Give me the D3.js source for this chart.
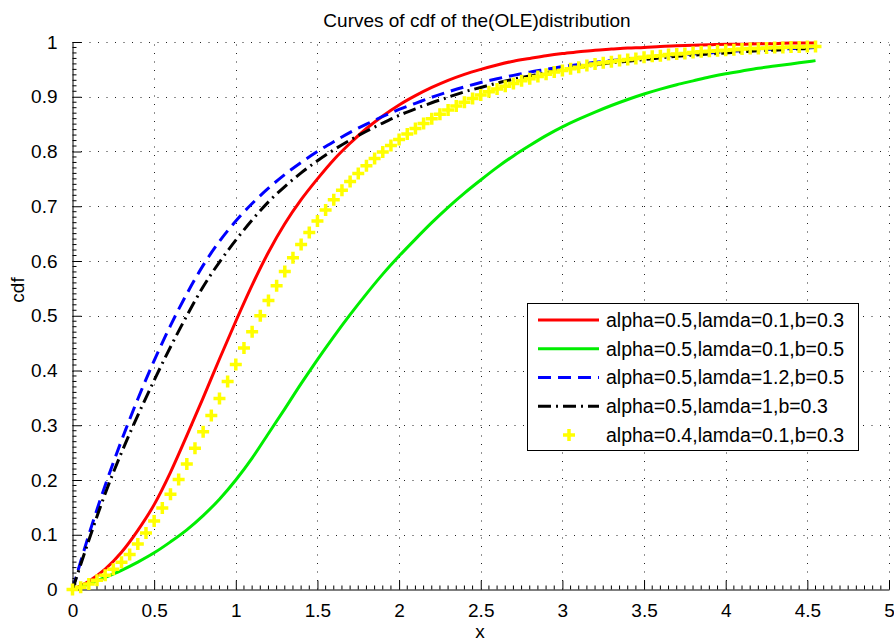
<!DOCTYPE html>
<html>
<head>
<meta charset="utf-8">
<script src="https://cdn.jsdelivr.net/npm/d3@7"></script>
<style>
  body { margin: 0; background: #fff; }
  text { font-family: "Liberation Sans", Arial, Helvetica, sans-serif; }
</style>
</head>
<body>
<svg id="chart" width="894" height="642"></svg>
<script>
// x grid used by the four line series
const xLine = [0, 0.1, 0.2, 0.3, 0.4, 0.5, 0.6, 0.7, 0.8, 0.9, 1, 1.1, 1.2, 1.3, 1.4, 1.5, 1.6, 1.7, 1.8, 1.9,
  2, 2.1, 2.2, 2.3, 2.4, 2.5, 2.6, 2.7, 2.8, 2.9, 3, 3.1, 3.2, 3.3, 3.4, 3.5, 3.6, 3.7, 3.8, 3.9,
  4, 4.1, 4.2, 4.3, 4.4, 4.5, 4.55];

const redVals = [0, 0.015, 0.037, 0.068, 0.108, 0.155, 0.214, 0.281, 0.350, 0.421, 0.490, 0.556, 0.616, 0.668, 0.712,
  0.750, 0.785, 0.815, 0.842, 0.865, 0.885, 0.902, 0.917, 0.930, 0.941, 0.950, 0.958, 0.965, 0.970, 0.975,
  0.979, 0.982, 0.985, 0.987, 0.989, 0.990, 0.992, 0.993, 0.994, 0.995, 0.996, 0.996, 0.997, 0.997, 0.998, 0.998, 0.998];

const greenVals = [0, 0.010, 0.022, 0.035, 0.050, 0.067, 0.087, 0.109, 0.135, 0.165, 0.200, 0.240, 0.285, 0.330, 0.376,
  0.420, 0.462, 0.502, 0.540, 0.576, 0.609, 0.640, 0.670, 0.698, 0.724, 0.748, 0.771, 0.792, 0.811, 0.829,
  0.845, 0.859, 0.872, 0.884, 0.895, 0.905, 0.914, 0.922, 0.929, 0.936, 0.942, 0.947, 0.952, 0.956, 0.960, 0.964, 0.966];

const blueVals = [0, 0.100, 0.190, 0.272, 0.348, 0.418, 0.482, 0.540, 0.592, 0.636, 0.673, 0.705, 0.733, 0.758, 0.780,
  0.800, 0.818, 0.835, 0.850, 0.864, 0.877, 0.888, 0.899, 0.909, 0.918, 0.926, 0.933, 0.939, 0.945, 0.950,
  0.955, 0.959, 0.963, 0.966, 0.969, 0.972, 0.974, 0.976, 0.978, 0.980, 0.982, 0.984, 0.985, 0.987, 0.988, 0.989, 0.990];

const blackVals = [0, 0.090, 0.175, 0.250, 0.318, 0.382, 0.443, 0.500, 0.553, 0.598, 0.638, 0.675, 0.708, 0.736, 0.761,
  0.783, 0.803, 0.821, 0.837, 0.852, 0.866, 0.878, 0.889, 0.899, 0.909, 0.917, 0.925, 0.932, 0.938, 0.944,
  0.949, 0.954, 0.958, 0.962, 0.965, 0.968, 0.971, 0.974, 0.976, 0.978, 0.980, 0.982, 0.984, 0.985, 0.987, 0.988, 0.989];

// the marker series is sampled twice as densely
const xMark = [0, 0.05, 0.1, 0.15, 0.2, 0.25, 0.3, 0.35, 0.4, 0.45, 0.5, 0.55, 0.6, 0.65, 0.7, 0.75, 0.8, 0.85, 0.9, 0.95,
  1, 1.05, 1.1, 1.15, 1.2, 1.25, 1.3, 1.35, 1.4, 1.45, 1.5, 1.55, 1.6, 1.65, 1.7, 1.75, 1.8, 1.85, 1.9, 1.95,
  2, 2.05, 2.1, 2.15, 2.2, 2.25, 2.3, 2.35, 2.4, 2.45, 2.5, 2.55, 2.6, 2.65, 2.7, 2.75, 2.8, 2.85, 2.9, 2.95,
  3, 3.05, 3.1, 3.15, 3.2, 3.25, 3.3, 3.35, 3.4, 3.45, 3.5, 3.55, 3.6, 3.65, 3.7, 3.75, 3.8, 3.85, 3.9, 3.95,
  4, 4.05, 4.1, 4.15, 4.2, 4.25, 4.3, 4.35, 4.4, 4.45, 4.5, 4.55];

const yellowVals = [0, 0.004, 0.010, 0.017, 0.026, 0.037, 0.050, 0.064, 0.083, 0.103, 0.125, 0.149, 0.174, 0.201, 0.229,
  0.258, 0.288, 0.318, 0.349, 0.380, 0.411, 0.441, 0.471, 0.500, 0.528, 0.555, 0.581, 0.606, 0.630, 0.652,
  0.673, 0.693, 0.712, 0.729, 0.745, 0.760, 0.774, 0.787, 0.799, 0.811, 0.822, 0.832, 0.842, 0.851, 0.860,
  0.868, 0.876, 0.883, 0.890, 0.897, 0.903, 0.909, 0.914, 0.919, 0.924, 0.929, 0.933, 0.937, 0.941, 0.945,
  0.948, 0.951, 0.954, 0.957, 0.960, 0.962, 0.964, 0.966, 0.968, 0.970, 0.972, 0.974, 0.975, 0.977, 0.978,
  0.979, 0.981, 0.982, 0.983, 0.984, 0.985, 0.986, 0.987, 0.988, 0.988, 0.989, 0.990, 0.990, 0.991, 0.991,
  0.992, 0.992];

const legendLabels = [
  "alpha=0.5,lamda=0.1,b=0.3",
  "alpha=0.5,lamda=0.1,b=0.5",
  "alpha=0.5,lamda=1.2,b=0.5",
  "alpha=0.5,lamda=1,b=0.3",
  "alpha=0.4,lamda=0.1,b=0.3"
];

const xTicks = [0, 0.5, 1, 1.5, 2, 2.5, 3, 3.5, 4, 4.5, 5];
const yTicks = [0, 0.1, 0.2, 0.3, 0.4, 0.5, 0.6, 0.7, 0.8, 0.9, 1];

const svg = d3.select("#chart");
const x = d3.scaleLinear().domain([0, 5]).range([72.5, 889]);
const y = d3.scaleLinear().domain([0, 1]).range([589.5, 42]);

// dotted grid
const grid = svg.append("g").attr("stroke", "#222").attr("stroke-width", 1)
  .attr("stroke-dasharray", "1,7.5");
grid.selectAll(".gx").data(xTicks.slice(1)).join("line")
  .attr("x1", d => Math.round(x(d)) + 0.5).attr("x2", d => Math.round(x(d)) + 0.5)
  .attr("y1", y(0)).attr("y2", y(1));
grid.selectAll(".gy").data(yTicks.slice(1)).join("line")
  .attr("y1", d => Math.round(y(d)) + 0.5).attr("y2", d => Math.round(y(d)) + 0.5)
  .attr("x1", x(0)).attr("x2", x(5));

// axes (MATLAB style: inward ticks, minor ticks)
const xAxis = svg.append("g").attr("transform", `translate(0,${y(0)})`)
  .call(d3.axisBottom(x).tickValues(xTicks).tickFormat(d3.format("~g")).tickSizeInner(-9).tickSizeOuter(0).tickPadding(14));
const yAxis = svg.append("g").attr("transform", `translate(${x(0)},0)`)
  .call(d3.axisLeft(y).tickValues(yTicks).tickFormat(d3.format("~g")).tickSizeInner(-9).tickSizeOuter(0).tickPadding(15));
[xAxis, yAxis].forEach(a => {
  a.select(".domain").attr("stroke", "#000");
  a.selectAll(".tick line").attr("stroke", "#000");
  a.selectAll("text").attr("font-size", 19).attr("fill", "#000")
    .style("font-family", '"Liberation Sans", Arial, sans-serif');
});

const minorX = x.ticks(100).filter(d => Math.abs(d * 2 - Math.round(d * 2)) > 1e-6);
svg.append("g").selectAll("line").data(minorX).join("line")
  .attr("x1", d => x(d)).attr("x2", d => x(d))
  .attr("y1", y(0)).attr("y2", y(0) - 4).attr("stroke", "#000");
const minorY = y.ticks(100).filter(d => Math.abs(d * 10 - Math.round(d * 10)) > 1e-6);
svg.append("g").selectAll("line").data(minorY).join("line")
  .attr("y1", d => y(d)).attr("y2", d => y(d))
  .attr("x1", x(0)).attr("x2", x(0) + 4).attr("stroke", "#000");

// series
const lineSeries = [
  {vals: redVals, color: "#ff0000", dash: null},
  {vals: greenVals, color: "#00ee00", dash: null},
  {vals: blueVals, color: "#0000ff", dash: "13,7"},
  {vals: blackVals, color: "#000000", dash: "13,5,2,5"}
];
const line = d3.line().x(d => x(d[0])).y(d => y(d[1])).curve(d3.curveMonotoneX);

const plot = svg.append("g");
lineSeries.forEach(s => {
  plot.append("path")
    .datum(xLine.map((xv, i) => [xv, s.vals[i]]))
    .attr("d", line)
    .attr("fill", "none")
    .attr("stroke", s.color)
    .attr("stroke-width", 3)
    .attr("stroke-dasharray", s.dash);
});

const plusPath = "M-6,0H6M0,-6V6";
plot.selectAll(".mk").data(xMark.map((xv, i) => [xv, yellowVals[i]])).join("path")
  .attr("class", "mk")
  .attr("transform", d => `translate(${x(d[0])},${y(d[1])})`)
  .attr("d", plusPath)
  .attr("stroke", "#ffff00")
  .attr("stroke-width", 3.5)
  .attr("fill", "none");

// legend
const lg = svg.append("g");
lg.append("rect").attr("x", 527.5).attr("y", 303.5).attr("width", 331).attr("height", 147)
  .attr("fill", "#fff").attr("stroke", "#000");
const rowY = d3.scaleLinear().domain([0, 4]).range([320, 435]);
const legendStyle = [...lineSeries.map(s => ({color: s.color, dash: s.dash, marker: false})),
  {color: "#ffff00", dash: null, marker: true}];
legendLabels.forEach((lab, i) => {
  const st = legendStyle[i];
  const yy = rowY(i);
  if (st.marker) {
    lg.append("path").attr("transform", `translate(569,${yy})`).attr("d", plusPath)
      .attr("stroke", st.color).attr("stroke-width", 3.5);
  } else {
    lg.append("line").attr("x1", 538).attr("x2", 599).attr("y1", yy).attr("y2", yy)
      .attr("stroke", st.color).attr("stroke-width", 3).attr("stroke-dasharray", st.dash);
  }
  lg.append("text").attr("x", 606).attr("y", yy).attr("dy", "0.35em")
    .attr("font-size", 19.5).text(lab);
});

// title and axis labels
svg.append("text").attr("x", 477).attr("y", 27).attr("text-anchor", "middle")
  .attr("font-size", 19).text("Curves of cdf of the(OLE)distribution");
svg.append("text").attr("x", 480).attr("y", 638).attr("text-anchor", "middle")
  .attr("font-size", 19).text("x");
svg.append("text").attr("transform", "translate(24,290) rotate(-90)").attr("text-anchor", "middle")
  .attr("font-size", 19).text("cdf");
</script>
</body>
</html>
